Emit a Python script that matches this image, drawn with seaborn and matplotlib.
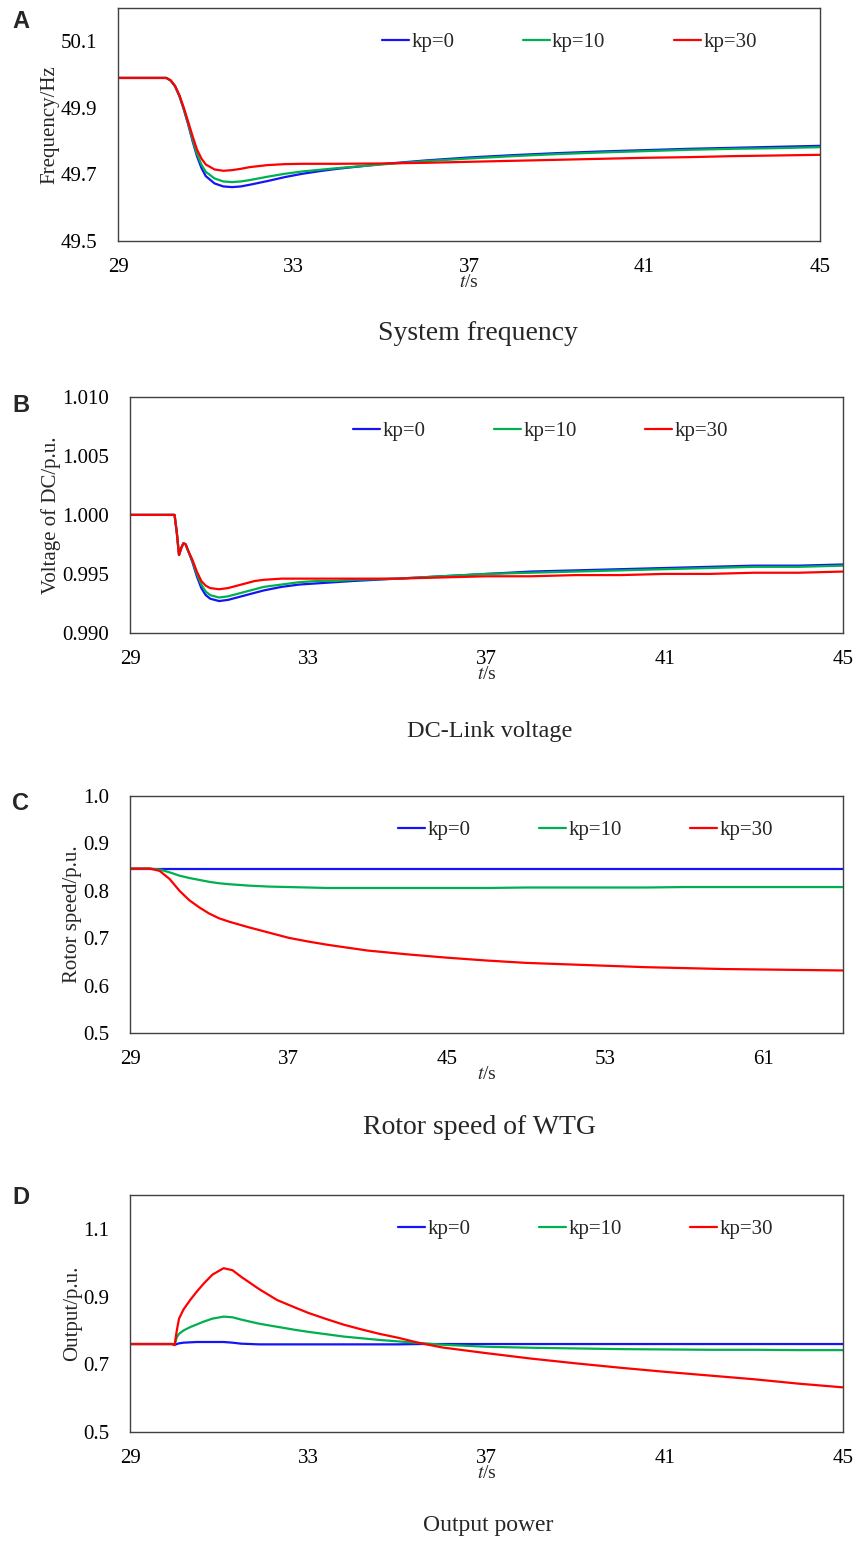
import numpy as np
import pandas as pd
import seaborn as sns
import matplotlib
matplotlib.use("Agg")
import matplotlib.pyplot as plt

# ---- data ----
labels = ["kp=0", "kp=10", "kp=30"]

# A: system frequency
t_freq = [29, 30.0, 30.1, 30.2, 30.3, 30.4, 30.5, 30.6, 30.7, 30.8, 30.9, 31.0, 31.2, 31.4,
          31.6, 31.8, 32.0, 32.4, 32.8, 33.2, 33.6, 34, 35, 36, 37, 38, 39, 40, 41, 42, 43, 44, 45]
freq_kp0 = [49.99, 49.99, 49.99, 49.982, 49.965, 49.935, 49.895, 49.85, 49.80, 49.755, 49.72,
            49.695, 49.673, 49.664, 49.662, 49.664, 49.669, 49.68, 49.692, 49.702, 49.71, 49.717,
            49.731, 49.742, 49.751, 49.758, 49.764, 49.769, 49.773, 49.777, 49.780, 49.783, 49.786]
freq_kp10 = [49.99, 49.99, 49.99, 49.982, 49.965, 49.936, 49.897, 49.853, 49.805, 49.762, 49.73,
             49.708, 49.688, 49.679, 49.677, 49.679, 49.683, 49.693, 49.702, 49.709, 49.714, 49.719,
             49.73, 49.74, 49.748, 49.755, 49.761, 49.766, 49.77, 49.774, 49.777, 49.779, 49.782]
freq_kp30 = [49.99, 49.99, 49.99, 49.983, 49.966, 49.938, 49.9, 49.858, 49.815, 49.775, 49.748,
             49.73, 49.715, 49.711, 49.713, 49.717, 49.722, 49.728, 49.731, 49.732, 49.732, 49.732,
             49.733, 49.735, 49.738, 49.741, 49.744, 49.747, 49.75, 49.752, 49.755, 49.757, 49.759]

# B: DC-link voltage
t_vdc = [29, 29.95, 30.0, 30.05, 30.1, 30.15, 30.2, 30.25, 30.3, 30.4, 30.5, 30.6, 30.7, 30.8,
         31.0, 31.2, 31.4, 31.6, 31.8, 32.0, 32.4, 32.8, 33.2, 33.6, 34, 35, 36, 37, 38, 39, 40,
         41, 42, 43, 44, 45]
vdc_kp0 = [1.0, 1.0, 1.0, 0.9985, 0.9966, 0.9972, 0.9976, 0.9975, 0.9970, 0.9960, 0.9948, 0.9938,
           0.9932, 0.9929, 0.9927, 0.9928, 0.9930, 0.9932, 0.9934, 0.9936, 0.9939, 0.9941, 0.9942,
           0.9943, 0.9944, 0.9946, 0.9948, 0.9950, 0.9952, 0.9953, 0.9954, 0.9955, 0.9956, 0.9957,
           0.9957, 0.9958]
vdc_kp10 = [1.0, 1.0, 1.0, 0.9985, 0.9966, 0.9972, 0.9976, 0.9975, 0.9970, 0.9961, 0.9950, 0.9941,
            0.9935, 0.9932, 0.9930, 0.9931, 0.9933, 0.9935, 0.9937, 0.9939, 0.9941, 0.9943, 0.9944,
            0.9944, 0.9945, 0.9946, 0.9948, 0.9950, 0.9951, 0.9952, 0.9953, 0.9954, 0.9955, 0.9956,
            0.9956, 0.9957]
vdc_kp30 = [1.0, 1.0, 1.0, 0.9985, 0.9966, 0.9972, 0.9976, 0.9975, 0.9970, 0.9962, 0.9952, 0.9944,
            0.9940, 0.9938, 0.9937, 0.9938, 0.9940, 0.9942, 0.9944, 0.9945, 0.9946, 0.9946, 0.9946,
            0.9946, 0.9946, 0.9946, 0.9947, 0.9948, 0.9948, 0.9949, 0.9949, 0.9950, 0.9950, 0.9951,
            0.9951, 0.9952]

# C: rotor speed
t_speed = [29, 30.0, 30.5, 31, 31.5, 32, 32.5, 33, 33.5, 34, 35, 36, 37, 38, 39, 40, 41, 43, 45,
           47, 49, 51, 53, 55, 57, 59, 61, 63, 65]
speed_kp0 = [0.847, 0.847, 0.847, 0.847, 0.847, 0.847, 0.847, 0.847, 0.847, 0.847, 0.847, 0.847,
             0.847, 0.847, 0.847, 0.847, 0.847, 0.847, 0.847, 0.847, 0.847, 0.847, 0.847, 0.847,
             0.847, 0.847, 0.847, 0.847, 0.847]
speed_kp10 = [0.847, 0.847, 0.845, 0.839, 0.832, 0.827, 0.823, 0.819, 0.816, 0.814, 0.811, 0.809,
              0.808, 0.807, 0.806, 0.806, 0.806, 0.806, 0.806, 0.806, 0.807, 0.807, 0.807, 0.807,
              0.808, 0.808, 0.808, 0.808, 0.808]
speed_kp30 = [0.847, 0.847, 0.842, 0.825, 0.80, 0.78, 0.765, 0.752, 0.742, 0.735, 0.723, 0.712,
              0.701, 0.693, 0.686, 0.68, 0.674, 0.666, 0.659, 0.653, 0.648, 0.645, 0.642, 0.639,
              0.637, 0.635, 0.634, 0.633, 0.632]

# D: output power
t_power = [29, 29.95, 30.0, 30.05, 30.1, 30.2, 30.35, 30.5, 30.65, 30.85, 31.1, 31.3, 31.5, 31.9,
           32.3, 32.7, 33.0, 33.4, 33.8, 34.2, 34.6, 35.0, 35.5, 36, 37, 38, 39, 40, 41, 42, 43,
           44, 45]
power_kp0 = [0.76, 0.76, 0.757, 0.76, 0.762, 0.764, 0.765, 0.766, 0.766, 0.766, 0.766, 0.764,
             0.761, 0.759, 0.759, 0.759, 0.759, 0.759, 0.759, 0.759, 0.759, 0.759, 0.76, 0.76,
             0.76, 0.76, 0.76, 0.76, 0.76, 0.76, 0.76, 0.76, 0.76]
power_kp10 = [0.76, 0.76, 0.757, 0.78, 0.79, 0.80, 0.81, 0.818, 0.826, 0.835, 0.841, 0.839,
              0.832, 0.82, 0.811, 0.802, 0.796, 0.789, 0.782, 0.777, 0.772, 0.768, 0.763, 0.758,
              0.752, 0.749, 0.747, 0.745, 0.744, 0.743, 0.743, 0.742, 0.742]
power_kp30 = [0.76, 0.76, 0.757, 0.80, 0.835, 0.862, 0.89, 0.915, 0.938, 0.965, 0.984, 0.978,
              0.958, 0.922, 0.89, 0.868, 0.852, 0.834, 0.817, 0.803, 0.79, 0.779, 0.763, 0.75,
              0.733, 0.717, 0.703, 0.69, 0.678, 0.667, 0.656, 0.643, 0.632]

colors = {"kp=0": "#1414F5", "kp=10": "#00B050", "kp=30": "#FF0000"}


def long_df(t, series):
    frames = []
    for lab, vals in zip(labels, series):
        frames.append(pd.DataFrame({"t": t, "v": vals, "case": lab}))
    return pd.concat(frames, ignore_index=True)


sns.set_style("white")
plt.rcParams["font.family"] = ["Liberation Serif", "DejaVu Serif"]
plt.rcParams["mathtext.fontset"] = "stix"

W, H = 857, 1546
fig = plt.figure(figsize=(W / 100, H / 100), dpi=100)

panels = [
    # letter, rect, t, series, ylabel, xlim, ylim, xticks, yticks, fmt,
    # title, title x px, title y px, title size, legend start x (axes frac)
    ("A", [0.1377, 0.8441, 0.8191, 0.1507], t_freq, [freq_kp0, freq_kp10, freq_kp30],
     "Frequency/Hz", (29, 45), (49.5, 50.2), [29, 33, 37, 41, 45], [49.5, 49.7, 49.9, 50.1],
     "{:.1f}", "System frequency", 478, 334, 20, 0.376),
    ("B", [0.1517, 0.5906, 0.832, 0.1527], t_vdc, [vdc_kp0, vdc_kp10, vdc_kp30],
     "Voltage of DC/p.u.", (29, 45), (0.990, 1.010), [29, 33, 37, 41, 45],
     [0.990, 0.995, 1.000, 1.005, 1.010], "{:.3f}", "DC-Link voltage", 490, 731, 17.5, 0.313),
    ("C", [0.1517, 0.3318, 0.832, 0.1533], t_speed, [speed_kp0, speed_kp10, speed_kp30],
     "Rotor speed/p.u.", (29, 65), (0.5, 1.0), [29, 37, 45, 53, 61],
     [0.5, 0.6, 0.7, 0.8, 0.9, 1.0], "{:.1f}", "Rotor speed of WTG", 479, 1128, 20, 0.376),
    ("D", [0.1517, 0.0737, 0.832, 0.1533], t_power, [power_kp0, power_kp10, power_kp30],
     "Output/p.u.", (29, 45), (0.5, 1.2), [29, 33, 37, 41, 45], [0.5, 0.7, 0.9, 1.1],
     "{:.1f}", "Output power", 488, 1526, 17, 0.376),
]

for (letter, rect, t, series, ylab, xlim, ylim, xticks, yticks, yfmt, title, title_x,
     title_y, title_size, legx) in panels:
    ax = fig.add_axes(rect)
    df = long_df(t, series)
    sns.lineplot(data=df, x="t", y="v", hue="case", palette=colors, sort=False,
                 linewidth=1.6, ax=ax, legend=True)
    ax.set_xlim(*xlim)
    ax.set_ylim(*ylim)
    ax.set_xticks(xticks)
    ax.set_yticks(yticks)
    ax.set_xticklabels([str(x) for x in xticks])
    ax.set_yticklabels([yfmt.format(y) for y in yticks])
    ax.tick_params(axis="both", direction="in", length=5, width=1, colors="#404040",
                   labelcolor="black", labelsize=15)
    ax.tick_params(axis="x", pad=12)
    ax.tick_params(axis="y", pad=15)
    for sp in ax.spines.values():
        sp.set_visible(True)
        sp.set_color("#404040")
        sp.set_linewidth(1.0)
    ax.set_ylabel(ylab, fontsize=15, labelpad=1)
    ax.set_xlabel(r"$t$/s", fontsize=14, labelpad=-2)

    handles, labs = ax.get_legend_handles_labels()
    ax.legend(handles, labs, loc="center left", bbox_to_anchor=(legx, 0.854), ncol=3,
              frameon=False, fontsize=15, handlelength=1.3, handletextpad=0.1,
              columnspacing=3.3, borderaxespad=0, borderpad=0)

    fig.text(title_x / W, 1 - title_y / H, title, ha="center", va="center",
             fontsize=title_size)

# panel letters
for letter, ypx in [("A", 22), ("B", 405), ("C", 803), ("D", 1198)]:
    fig.text(12 / W, 1 - ypx / H, letter, fontsize=17, fontweight="bold",
             family=["Liberation Sans", "DejaVu Sans"], ha="left", va="center")

fig.savefig("out.png", dpi=100)
